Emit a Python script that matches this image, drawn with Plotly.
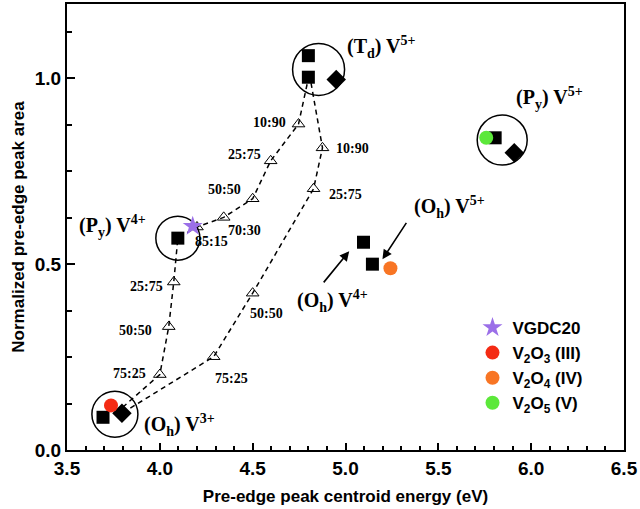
import plotly.graph_objects as go

# ---------------- data ----------------
# reference compounds (black squares / diamonds)
sq_x = [4.80, 4.80, 4.097, 3.694, 5.097, 5.145, 5.806]
sq_y = [1.061, 1.003, 0.570, 0.088, 0.559, 0.500, 0.840]
dia_x = [4.95, 3.796, 5.909]
dia_y = [0.997, 0.099, 0.800]

# mixture triangles
tri_x = [4.20, 4.344, 4.50, 4.597, 4.747, 4.876, 4.828, 4.50, 4.29, 4.0, 4.048, 4.075]
tri_y = [0.600, 0.626, 0.676, 0.778, 0.877, 0.813, 0.703, 0.422, 0.251, 0.203, 0.332, 0.452]
tri_lbl = ["85:15", "70:30", "50:50", "25:75", "10:90", "10:90", "25:75", "50:50", "75:25",
           "75:25", "50:50", "25:75"]
lbl_x = [4.28, 4.457, 4.349, 4.457, 4.591, 5.038, 5.00, 4.575, 4.387, 3.839, 3.871, 3.93]
lbl_y = [0.561, 0.591, 0.700, 0.794, 0.880, 0.810, 0.687, 0.366, 0.193, 0.206, 0.321, 0.439]

# dashed mixing paths
pathA_x = [3.80, 4.0, 4.048, 4.075, 4.097, 4.20, 4.344, 4.50, 4.597, 4.747, 4.80]
pathA_y = [0.115, 0.203, 0.332, 0.452, 0.570, 0.600, 0.626, 0.676, 0.778, 0.877, 1.00]
pathB_x = [3.80, 4.29, 4.50, 4.828, 4.876, 4.81]
pathB_y = [0.100, 0.251, 0.422, 0.703, 0.813, 1.00]

# samples
vgdc_x, vgdc_y = [4.177], [0.602]
v2o3_x, v2o3_y = [3.737], [0.120]
v2o4_x, v2o4_y = [5.242], [0.489]
v2o5_x, v2o5_y = [5.758], [0.840]

# cluster circles (centres) and labels
circ_x = [4.855, 4.097, 3.758, 5.844]
circ_y = [1.024, 0.570, 0.096, 0.834]
circ_r = [26, 22, 23, 25]
clab_txt = ["(T<sub>d</sub>) V<sup>5+</sup>", "(P<sub>y</sub>) V<sup>5+</sup>",
            "(O<sub>h</sub>) V<sup>5+</sup>", "(O<sub>h</sub>) V<sup>4+</sup>",
            "(P<sub>y</sub>) V<sup>4+</sup>", "(O<sub>h</sub>) V<sup>3+</sup>"]
clab_x = [4.995, 5.909, 5.36, 4.726, 3.554, 3.903]
clab_y = [1.083, 0.947, 0.655, 0.401, 0.602, 0.067]

# arrows (head, tail)
arr_hx = [5.02, 5.199]
arr_hy = [0.535, 0.513]
arr_tx = [4.876, 5.333]
arr_ty = [0.447, 0.615]

xticks = [3.5, 4.0, 4.5, 5.0, 5.5, 6.0, 6.5]
yticks = [0.0, 0.5, 1.0]

SERIF = "Liberation Serif, Times New Roman, serif"
SANS = "Liberation Sans, Arial, sans-serif"

fig = go.Figure()

for px, py in [(pathA_x, pathA_y), (pathB_x, pathB_y)]:
    fig.add_trace(go.Scatter(x=px, y=py, mode="lines", showlegend=False, hoverinfo="skip",
                             line=dict(color="black", width=1.5, dash="5px,4px")))

fig.add_trace(go.Scatter(x=tri_x, y=tri_y, mode="markers", showlegend=False,
                         marker=dict(symbol="triangle-up-open", size=11, color="black",
                                     line=dict(width=1, color="black"))))
fig.add_trace(go.Scatter(x=sq_x, y=sq_y, mode="markers", showlegend=False,
                         marker=dict(symbol="square", size=13, color="black")))
fig.add_trace(go.Scatter(x=dia_x, y=dia_y, mode="markers", showlegend=False,
                         marker=dict(symbol="diamond", size=15, color="black")))

fig.add_trace(go.Scatter(x=vgdc_x, y=vgdc_y, mode="markers", name="<b>VGDC20</b>",
                         marker=dict(symbol="star", size=15, color="#9b6fe8")))
fig.add_trace(go.Scatter(x=v2o3_x, y=v2o3_y, mode="markers", name="<b>V<sub>2</sub>O<sub>3</sub> (III)</b>",
                         marker=dict(symbol="circle", size=14, color="#f42b14")))
fig.add_trace(go.Scatter(x=v2o4_x, y=v2o4_y, mode="markers", name="<b>V<sub>2</sub>O<sub>4</sub> (IV)</b>",
                         marker=dict(symbol="circle", size=14, color="#f87524")))
fig.add_trace(go.Scatter(x=v2o5_x, y=v2o5_y, mode="markers", name="<b>V<sub>2</sub>O<sub>5</sub> (V)</b>",
                         marker=dict(symbol="circle", size=14, color="#5ce83a")))

for cx, cy, r in zip(circ_x, circ_y, circ_r):
    fig.add_shape(type="circle", xref="x", yref="y", xsizemode="pixel", ysizemode="pixel",
                  xanchor=cx, yanchor=cy, x0=-r, x1=r, y0=-r, y1=r,
                  line=dict(color="black", width=1.5), layer="below")

for t, x, y in zip(tri_lbl, lbl_x, lbl_y):
    fig.add_annotation(x=x, y=y, text="<b>" + t + "</b>", showarrow=False,
                       font=dict(family=SERIF, size=14, color="black"))

for t, x, y in zip(clab_txt, clab_x, clab_y):
    fig.add_annotation(x=x, y=y, text="<b>" + t + "</b>", showarrow=False, xanchor="left",
                       font=dict(family=SERIF, size=20, color="black"))

for hx, hy, tx, ty in zip(arr_hx, arr_hy, arr_tx, arr_ty):
    fig.add_annotation(x=hx, y=hy, ax=tx, ay=ty, xref="x", yref="y", axref="x", ayref="y",
                       text="", showarrow=True, arrowhead=2, arrowsize=1.2, arrowwidth=1.6,
                       arrowcolor="black")

fig.update_layout(
    width=640, height=509,
    margin=dict(l=67, r=15, t=2, b=59),
    paper_bgcolor="white", plot_bgcolor="white",
    font=dict(family=SANS, color="black"),
    legend=dict(x=0.728, y=0.314, xanchor="left", yanchor="top",
                font=dict(family=SANS, size=17, color="black"),
                bgcolor="rgba(0,0,0,0)", tracegroupgap=0, itemwidth=30),
    xaxis=dict(range=[3.5, 6.5], tickmode="array", tickvals=xticks,
               ticktext=["<b>%.1f</b>" % v for v in xticks],
               ticks="inside", ticklen=7, tickwidth=2, tickcolor="black",
               minor=dict(dtick=0.1, ticks="inside", ticklen=4, tickwidth=1.5, tickcolor="black"),
               showline=True, linewidth=2, linecolor="black", mirror=True,
               showgrid=False, zeroline=False,
               tickfont=dict(family=SANS, size=19, color="black"),
               title=dict(text="<b>Pre-edge peak centroid energy (eV)</b>",
                          font=dict(family=SANS, size=17, color="black"), standoff=12)),
    yaxis=dict(range=[0, 1.2], tickmode="array", tickvals=yticks,
               ticktext=["<b>%.1f</b>" % v for v in yticks],
               ticks="inside", ticklen=8, tickwidth=2, tickcolor="black",
               minor=dict(dtick=0.125, ticks="inside", ticklen=5, tickwidth=1.5, tickcolor="black"),
               showline=True, linewidth=2, linecolor="black", mirror=True,
               showgrid=False, zeroline=False,
               tickfont=dict(family=SANS, size=19, color="black"),
               title=dict(text="<b>Normalized pre-edge peak area</b>",
                          font=dict(family=SANS, size=17, color="black"), standoff=6)),
)

fig.write_html("out.html", config={"displayModeBar": False},
               post_script="document.body.style.margin='0';")
